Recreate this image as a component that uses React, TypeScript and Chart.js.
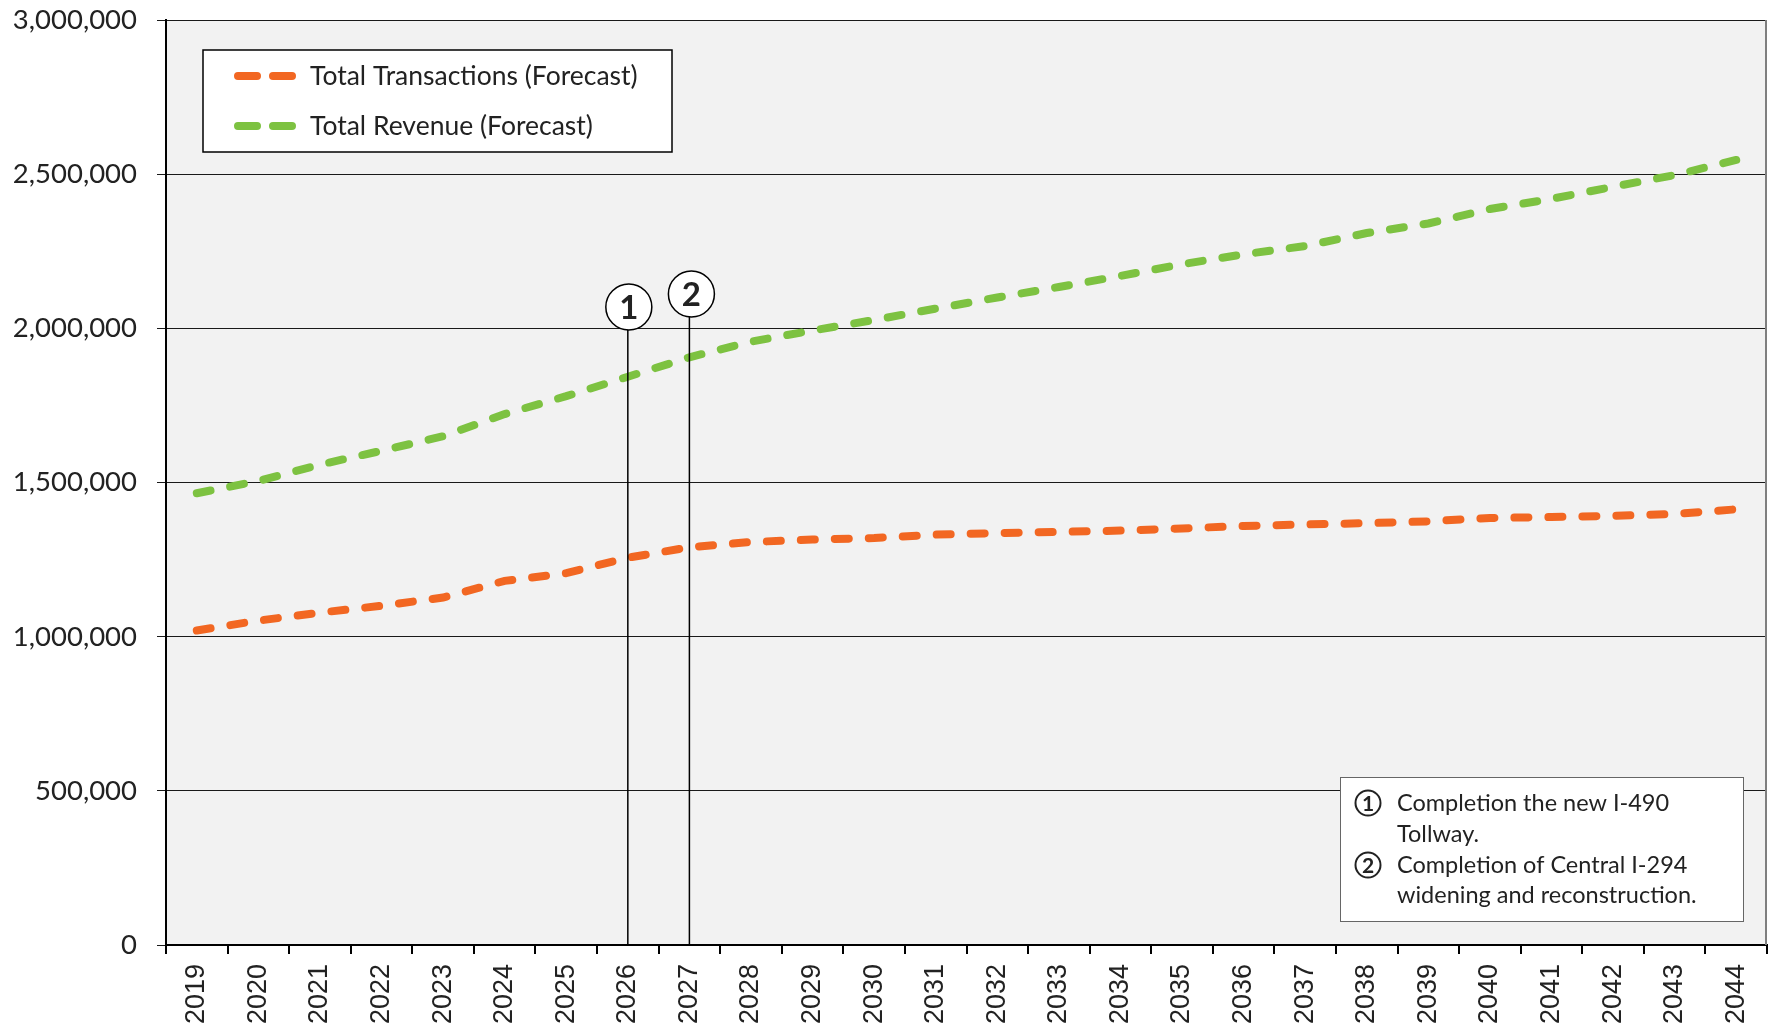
import React, { useEffect, useRef } from 'react';
import { Chart, registerables } from 'chart.js';

Chart.register(...registerables);

const years = ['2019', '2020', '2021', '2022', '2023', '2024', '2025', '2026', '2027', '2028', '2029', '2030', '2031', '2032', '2033', '2034', '2035', '2036', '2037', '2038', '2039', '2040', '2041', '2042', '2043', '2044'];

const transactions = [1020000, 1052000, 1078000, 1100000, 1127000, 1181000, 1206000, 1256000, 1290000, 1307000, 1315000, 1320000, 1331000, 1336000, 1340000, 1344000, 1351000, 1359000, 1364000, 1368000, 1374000, 1385000, 1388000, 1392000, 1398000, 1413000];

const revenue = [1465000, 1505000, 1558000, 1603000, 1650000, 1722000, 1780000, 1843000, 1906000, 1957000, 1993000, 2027000, 2064000, 2100000, 2134000, 2170000, 2208000, 2240000, 2267000, 2309000, 2340000, 2387000, 2420000, 2459000, 2497000, 2546000];

const yTickValues = [0, 500000, 1000000, 1500000, 2000000, 2500000, 3000000];

const seriesNames = ['Total Transactions (Forecast)', 'Total Revenue (Forecast)'];
const seriesColors = ['#F26722', '#7DC241'];

const markers = [
  { year: '2026', label: '1' },
  { year: '2027', label: '2' },
];

const notes = [
  { num: '1', lines: ['Completion the new I-490', 'Tollway.'] },
  { num: '2', lines: ['Completion of Central I-294', 'widening and reconstruction.'] },
];

const LATO = 'Lato, "Noto Sans", sans-serif';

const decorPlugin = {
  id: 'decor',
  beforeDraw(chart: any) {
    const { ctx, chartArea } = chart;
    ctx.save();
    ctx.fillStyle = '#F2F2F2';
    ctx.fillRect(chartArea.left, chartArea.top, chartArea.right - chartArea.left, chartArea.bottom - chartArea.top);
    ctx.restore();
  },
  afterDatasetsDraw(chart: any) {
    const { ctx, chartArea, scales } = chart;
    const xs = scales.x;
    const ys = scales.y;
    ctx.save();
    // right border
    ctx.strokeStyle = '#7f7f7f';
    ctx.lineWidth = 2;
    ctx.beginPath();
    ctx.moveTo(chartArea.right - 1, chartArea.top);
    ctx.lineTo(chartArea.right - 1, chartArea.bottom);
    ctx.stroke();

    // marker lines and circles
    const circleY = [307, 294];
    const circleDx = [1, 2];
    markers.forEach((m, i) => {
      const idx = years.indexOf(m.year);
      const x = xs.getPixelForValue(idx);
      const cy = circleY[i];
      const r = 23;
      ctx.strokeStyle = '#000';
      ctx.lineWidth = 1.5;
      ctx.beginPath();
      ctx.moveTo(x, ys.getPixelForValue(0));
      ctx.lineTo(x, cy + r);
      ctx.stroke();
      ctx.beginPath();
      ctx.arc(x + circleDx[i], cy, r, 0, Math.PI * 2);
      ctx.fillStyle = '#fff';
      ctx.fill();
      ctx.lineWidth = 1.5;
      ctx.stroke();
      ctx.fillStyle = '#222';
      ctx.font = 'bold 33px ' + LATO;
      ctx.textAlign = 'center';
      ctx.textBaseline = 'middle';
      ctx.fillText(m.label, x + circleDx[i], cy + 1);
    });

    // legend box
    const lx = 203, ly = 50, lw = 469, lh = 102;
    ctx.fillStyle = '#fff';
    ctx.fillRect(lx, ly, lw, lh);
    ctx.strokeStyle = '#000';
    ctx.lineWidth = 1.5;
    ctx.strokeRect(lx, ly, lw, lh);
    const rowsY = [76, 126];
    seriesNames.forEach((name, i) => {
      const y = rowsY[i];
      ctx.strokeStyle = seriesColors[i];
      ctx.lineWidth = 8;
      ctx.lineCap = 'round';
      ctx.beginPath();
      ctx.moveTo(238, y);
      ctx.lineTo(257, y);
      ctx.moveTo(273, y);
      ctx.lineTo(292, y);
      ctx.stroke();
      ctx.fillStyle = '#222';
      ctx.font = '26.5px ' + LATO;
      ctx.textAlign = 'left';
      ctx.textBaseline = 'middle';
      ctx.fillText(name, 310, y);
    });

    // notes box
    const nx = 1340, ny = 777, nw = 403, nh = 144;
    ctx.fillStyle = '#fff';
    ctx.fillRect(nx, ny, nw, nh);
    ctx.strokeStyle = '#666';
    ctx.lineWidth = 1;
    ctx.strokeRect(nx + 0.5, ny + 0.5, nw, nh);
    const lineYs = [[803, 834], [865, 895]];
    notes.forEach((n, i) => {
      const cy = lineYs[i][0];
      ctx.beginPath();
      ctx.arc(1368, cy, 12.5, 0, Math.PI * 2);
      ctx.strokeStyle = '#222';
      ctx.lineWidth = 2;
      ctx.stroke();
      ctx.fillStyle = '#222';
      ctx.font = 'bold 21px ' + LATO;
      ctx.textAlign = 'center';
      ctx.textBaseline = 'middle';
      ctx.fillText(n.num, 1368, cy + 1);
      ctx.font = '23.5px ' + LATO;
      ctx.textAlign = 'left';
      n.lines.forEach((t, j) => {
        ctx.fillText(t, 1397, lineYs[i][j]);
      });
    });
    ctx.restore();
  },
};

export default function App() {
  const ref = useRef<HTMLCanvasElement | null>(null);

  useEffect(() => {
    if (!ref.current) return;
    const chart = new Chart(ref.current, {
      type: 'line',
      data: {
        labels: years,
        datasets: [
          {
            label: seriesNames[0],
            data: transactions,
            borderColor: seriesColors[0],
            backgroundColor: seriesColors[0],
            borderWidth: 8,
            borderDash: [14, 20],
            borderCapStyle: 'round',
            pointRadius: 0,
            tension: 0,
            fill: false,
          },
          {
            label: seriesNames[1],
            data: revenue,
            borderColor: seriesColors[1],
            backgroundColor: seriesColors[1],
            borderWidth: 8,
            borderDash: [14, 20],
            borderCapStyle: 'round',
            pointRadius: 0,
            tension: 0,
            fill: false,
          },
        ],
      },
      options: {
        animation: false,
        responsive: false,
        maintainAspectRatio: false,
        layout: { padding: { left: 0, top: 20, right: 6, bottom: 0 } },
        plugins: {
          legend: { display: false },
          tooltip: { enabled: false },
        },
        scales: {
          x: {
            type: 'category',
            offset: true,
            grid: {
              offset: true,
              drawOnChartArea: false,
              drawTicks: true,
              tickLength: 9,
              color: '#000',
              lineWidth: 2,
            },
            border: { display: true, color: '#000', width: 2 },
            ticks: {
              autoSkip: false,
              minRotation: 90,
              maxRotation: 90,
              padding: 10,
              color: '#222',
              font: { family: '"Liberation Sans", Arial, sans-serif', size: 27 },
            },
            afterFit(scale: any) {
              scale.height = 85;
              scale.paddingLeft = 0;
              scale.paddingRight = 0;
            },
          },
          y: {
            min: 0,
            max: 3000000,
            afterBuildTicks(scale: any) {
              scale.ticks = yTickValues.map((v) => ({ value: v }));
            },
            grid: {
              color: '#1a1a1a',
              lineWidth: 1,
              tickLength: 9,
              drawTicks: true,
            },
            border: { display: true, color: '#000', width: 2 },
            ticks: {
              padding: 20,
              color: '#222',
              font: { family: LATO, size: 27.5 },
              callback: (v: any) => Number(v).toLocaleString('en-US'),
            },
            afterFit(scale: any) {
              scale.width = 166;
              scale.paddingTop = 0;
              scale.paddingBottom = 0;
            },
          },
        },
      },
      plugins: [decorPlugin],
    });
    return () => chart.destroy();
  }, []);

  return (
    <div style={{ position: 'fixed', left: 0, top: 0, width: 1773, height: 1030, background: '#fff' }}>
      <canvas ref={ref} width={1773} height={1030} style={{ width: 1773, height: 1030, display: 'block' }} />
    </div>
  );
}
